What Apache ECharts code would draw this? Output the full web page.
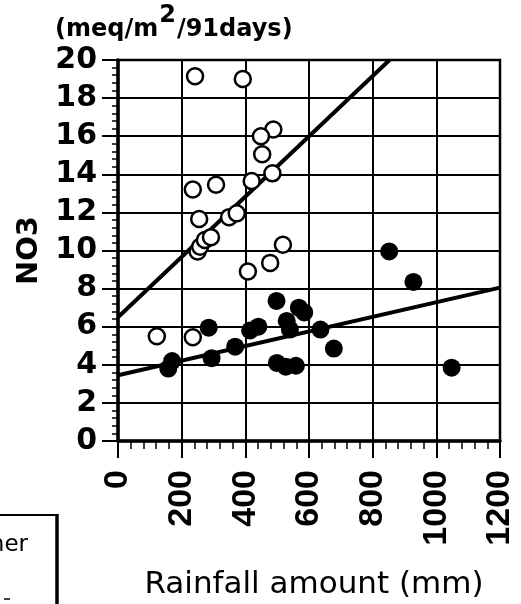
<!DOCTYPE html>
<html>
<head>
<meta charset="utf-8">
<script src="https://cdn.jsdelivr.net/npm/echarts@6/dist/echarts.min.js"></script>
<style>html,body{margin:0;padding:0;background:#fff;}#c{width:521px;height:604px;}</style>
</head>
<body>
<div id="c"></div>
<script>
// open circles (rainfall mm, NO3)
const openPoints = [
  [242,19.15],[392,19.0],[488,16.35],[449,16.0],[453,15.05],[485,14.05],
  [420,13.65],[308,13.45],[235,13.2],[255,11.65],[349,11.75],[373,11.95],
  [250,9.95],[258,10.2],[273,10.55],[292,10.7],[518,10.3],[478,9.35],
  [408,8.9],[122,5.5],[235,5.45]
];
// filled circles
const filledPoints = [
  [852,9.95],[928,8.35],[498,7.35],[568,7.0],[585,6.75],[530,6.3],[540,5.85],
  [441,6.0],[415,5.8],[285,5.95],[636,5.85],[368,4.95],[678,4.85],[294,4.35],
  [170,4.2],[158,3.8],[499,4.1],[527,3.9],[559,3.95],[1048,3.85]
];
// fitted lines (endpoints)
const openFit = [[0,6.5],[853,20]];
const filledFit = [[0,3.45],[1200,8.05]];
const xTicks = [0,200,400,600,800,1000,1200];
const yTicks = [0,2,4,6,8,10,12,14,16,18,20];

const chart = echarts.init(document.getElementById('c'), null, {renderer:'canvas'});
chart.setOption({
  animation:false,
  backgroundColor:'#fff',
  grid:{left:118, top:60, width:382, height:381, show:true, borderColor:'#000', borderWidth:2.5,
        containLabel:false, outerBoundsMode:'none'},
  xAxis:{
    type:'value', min:0, max:1200, interval:200,
    name:'Rainfall amount (mm)', nameLocation:'middle', nameGap:128,
    nameTextStyle:{fontFamily:'DejaVu Sans', fontSize:31, color:'#000', padding:[0,0,0,10]},
    axisLine:{onZero:false, lineStyle:{color:'#000', width:3.5}},
    axisTick:{show:true, inside:false, length:17, lineStyle:{color:'#000', width:2}},
    minorTick:{show:true, splitNumber:5, length:8, lineStyle:{color:'#000', width:1.5}},
    splitLine:{show:true, lineStyle:{color:'#000', width:2}},
    axisLabel:{rotate:90, margin:29, fontFamily:'Liberation Sans', fontWeight:'bold', fontSize:34, color:'#000',
      formatter:v=>xTicks.includes(v)?String(v):''}
  },
  yAxis:{
    type:'value', min:0, max:20, interval:2,
    name:'NO3', nameLocation:'middle', nameGap:66, nameRotate:90,
    nameTextStyle:{fontFamily:'DejaVu Sans', fontWeight:'bold', fontSize:29, color:'#000'},
    axisLine:{onZero:false, lineStyle:{color:'#000', width:3.5}},
    axisTick:{show:true, inside:false, length:16, lineStyle:{color:'#000', width:2}},
    minorTick:{show:true, splitNumber:5, length:6, lineStyle:{color:'#000', width:1.5}},
    splitLine:{show:true, lineStyle:{color:'#000', width:2}},
    axisLabel:{margin:21, fontFamily:'DejaVu Sans', fontWeight:'bold', fontSize:30, color:'#000',
      formatter:v=>yTicks.includes(v)?String(v):''}
  },
  graphic:[
    {type:'text', left:55, top:4, style:{
      text:'{a|(meq/m}{s|2}{a|/91days)}',
      rich:{
        a:{fontFamily:'DejaVu Sans', fontWeight:'bold', fontSize:24, fill:'#000', verticalAlign:'bottom', lineHeight:38},
        s:{fontFamily:'DejaVu Sans', fontWeight:'bold', fontSize:24, fill:'#000', verticalAlign:'top', lineHeight:38, padding:[0,1,18,1]}
      }
    }},
    {type:'line', shape:{x1:0, y1:515, x2:57, y2:515}, style:{stroke:'#000', lineWidth:2}},
    {type:'line', shape:{x1:57, y1:514, x2:57, y2:604}, style:{stroke:'#000', lineWidth:3.5}},
    {type:'text', right:521-28, top:534, style:{text:'ner', fontFamily:'DejaVu Sans', fontSize:23, fill:'#000'}},
    {type:'line', shape:{x1:4, y1:599, x2:10, y2:599}, style:{stroke:'#000', lineWidth:1.5}}
  ],
  series:[
    {type:'line', data:openFit, symbol:'none', lineStyle:{color:'#000', width:4}, z:3},
    {type:'line', data:filledFit, symbol:'none', lineStyle:{color:'#000', width:4}, z:3},
    {type:'scatter', data:openPoints, symbol:'circle', symbolSize:16,
      itemStyle:{color:'#fff', borderColor:'#000', borderWidth:2.5, opacity:1}, z:4},
    {type:'scatter', data:filledPoints, symbol:'circle', symbolSize:18,
      itemStyle:{color:'#000', opacity:1}, z:5}
  ]
});
</script>
</body>
</html>
